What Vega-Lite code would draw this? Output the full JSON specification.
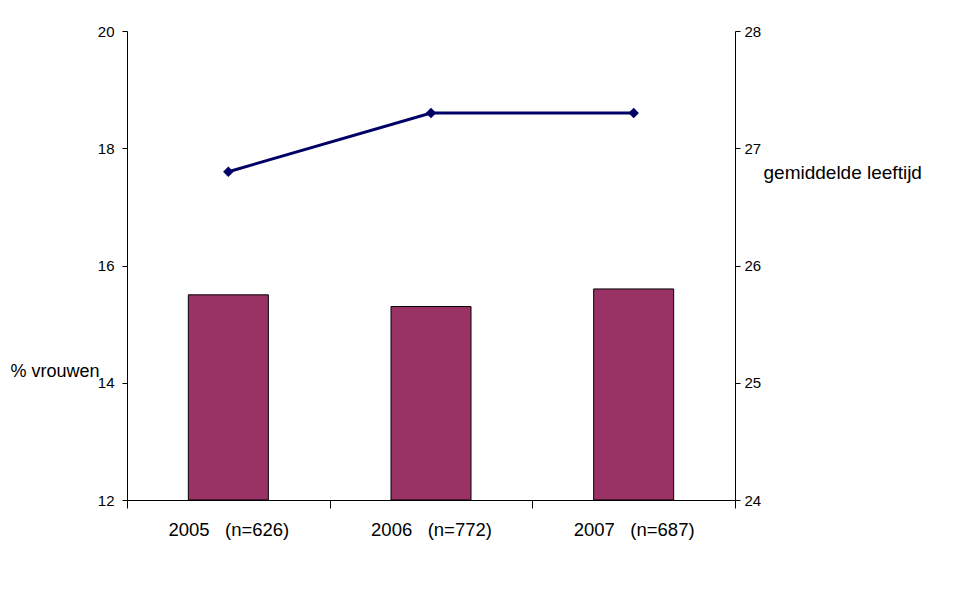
{
  "$schema": "https://vega.github.io/schema/vega-lite/v6.json",
  "width": 608,
  "height": 469,
  "autosize": {"type": "none"},
  "padding": {"left": 127, "top": 31, "right": 233, "bottom": 105},
  "background": "white",
  "config": {
    "view": {"stroke": null},
    "font": "Liberation Sans",
    "axis": {"grid": false, "domainColor": "#000", "tickColor": "#000", "labelColor": "#000", "titleColor": "#000", "labelFont": "Liberation Sans", "titleFont": "Liberation Sans"}
  },
  "data": {
    "values": [
      {"jaar": "2005\u00a0\u00a0\u00a0(n=626)", "vrouwen": 15.5, "leeftijd": 26.8},
      {"jaar": "2006\u00a0\u00a0\u00a0(n=772)", "vrouwen": 15.3, "leeftijd": 27.3},
      {"jaar": "2007\u00a0\u00a0\u00a0(n=687)", "vrouwen": 15.6, "leeftijd": 27.3}
    ]
  },
  "encoding": {
    "x": {
      "field": "jaar",
      "type": "nominal",
      "sort": null,
      "scale": {"paddingInner": 0, "paddingOuter": 0},
      "axis": {"title": null, "labelAngle": 0, "labelFontSize": 18.5, "labelPadding": 12, "tickBand": "extent", "tickSize": 8, "domainWidth": 1}
    }
  },
  "layer": [
    {
      "mark": {"type": "bar", "color": "#993366", "stroke": "#000", "strokeWidth": 1, "width": 80, "clip": true},
      "encoding": {
        "y": {
          "field": "vrouwen",
          "type": "quantitative",
          "scale": {"domain": [12, 20], "zero": false, "nice": false},
          "axis": {"values": [12, 14, 16, 18, 20], "title": "% vrouwen", "titleAngle": 0, "titleAlign": "left", "titleBaseline": "middle", "titleX": -117, "titleY": 340, "titleFontSize": 18, "titleFontWeight": "normal", "labelFontSize": 15, "tickSize": 5, "labelPadding": 8}
        },
        "y2": {"datum": 12}
      }
    },
    {
      "mark": {"type": "line", "color": "#000066", "strokeWidth": 3, "point": {"shape": "diamond", "size": 110, "filled": true, "color": "#000066"}},
      "encoding": {
        "y": {
          "field": "leeftijd",
          "type": "quantitative",
          "scale": {"domain": [24, 28], "zero": false, "nice": false},
          "axis": {"orient": "right", "values": [24, 25, 26, 27, 28], "title": "gemiddelde leeftijd", "titleAngle": 0, "titleAlign": "left", "titleBaseline": "middle", "titleX": 28, "titleY": 141, "titleFontSize": 19, "titleFontWeight": "normal", "labelFontSize": 15, "tickSize": 5, "labelPadding": 4}
        }
      }
    }
  ],
  "resolve": {"scale": {"y": "independent"}}
}
